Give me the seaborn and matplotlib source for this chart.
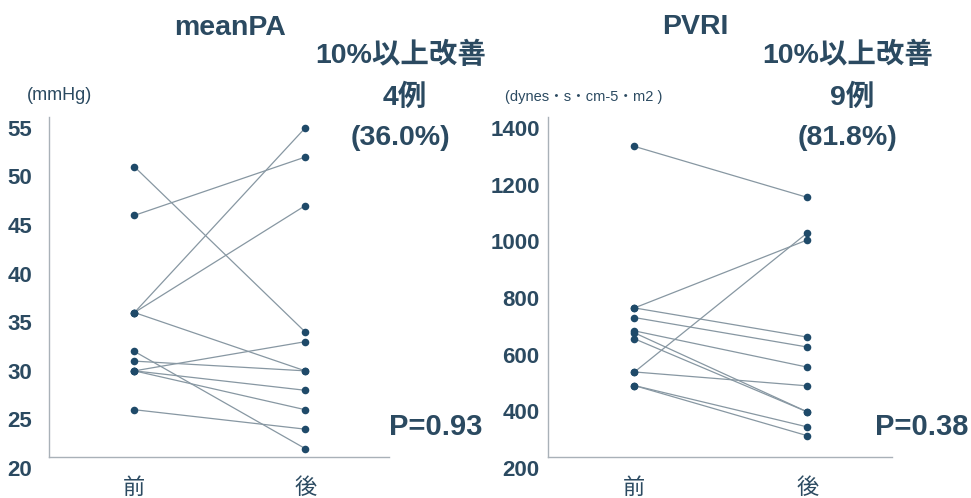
import numpy as np
import pandas as pd
import matplotlib
matplotlib.use('Agg')
import matplotlib.pyplot as plt
import seaborn as sns

# meanPA (mmHg), 前 -> 後 per patient
mpa_before = [51, 46, 36, 36, 36, 31, 30, 30, 30, 32, 26]
mpa_after = [34, 52, 55, 47, 30, 30, 33, 28, 26, 22, 24]

# PVRI (dynes・s・cm-5・m2)
pvri_before = [1335, 765, 539, 765, 731, 684, 677, 656, 539, 491, 491]
pvri_after = [1155, 1005, 1030, 662, 627, 556, 398, 398, 490, 345, 314]

time_labels = ['前', '後']
mpa_ticks = [20, 25, 30, 35, 40, 45, 50, 55]
pvri_ticks = [200, 400, 600, 800, 1000, 1200, 1400]

txt_col = '#2b4a61'
dot_col = '#1f4a69'
line_col = '#8797a2'
spine_col = '#a9b1b8'

sns.set_style('white')
plt.rcParams['font.family'] = ['Liberation Sans', 'Noto Sans CJK JP', 'DejaVu Sans']


def to_long(before, after):
    n = len(before)
    return pd.DataFrame({
        'id': list(range(n)) * 2,
        'x': [0] * n + [1] * n,
        'value': list(before) + list(after),
    })


def draw(ax, before, after, ylim, base, ticks, ypad):
    df = to_long(before, after)
    sns.lineplot(data=df, x='x', y='value', units='id', estimator=None,
                 color=line_col, linewidth=0.9, ax=ax, sort=False)
    sns.scatterplot(data=df, x='x', y='value', color=dot_col, s=30,
                    linewidth=0, ax=ax, zorder=3)
    for s in ['top', 'right']:
        ax.spines[s].set_visible(False)
    # the bottom line sits a little above the lowest tick, as in the source
    ax.spines['bottom'].set_position(('data', base))
    ax.spines['left'].set_bounds(base, ylim[1])
    for s in ['bottom', 'left']:
        ax.spines[s].set_color(spine_col)
        ax.spines[s].set_linewidth(1.0)
    ax.set_xlim(-0.5, 1.49)
    ax.set_ylim(*ylim)
    ax.set_xticks([0, 1])
    ax.set_xticklabels(time_labels, fontsize=16, color=txt_col)
    ax.set_yticks(ticks)
    ax.set_yticklabels([str(t) for t in ticks], fontsize=16,
                       fontweight='bold', color=txt_col)
    ax.set_xlabel('')
    ax.set_ylabel('')
    ax.tick_params(axis='x', length=0, pad=15)
    ax.tick_params(axis='y', length=0, pad=ypad)


fig = plt.figure(figsize=(9.71, 4.98), dpi=100)
ax1 = fig.add_axes([0.0505, 0.0602, 0.350, 0.705])
ax2 = fig.add_axes([0.5644, 0.0602, 0.3543, 0.705])

draw(ax1, mpa_before, mpa_after, (20, 56.13), 21.13, mpa_ticks, 12)
draw(ax2, pvri_before, pvri_after, (200, 1439), 239, pvri_ticks, 6)


def put(x, y, s, size, weight='bold'):
    fig.text(x / 971, 1 - y / 498, s, ha='center', va='center',
             fontsize=size, fontweight=weight, color=txt_col)


put(230, 28, 'meanPA', 20.5)
put(695, 27, 'PVRI', 20.5)
put(401, 55, '10%以上改善', 20.5)
put(405, 97, '4例', 20.5)
put(400, 138, '(36.0%)', 20.5)
put(848, 55, '10%以上改善', 20.5)
put(852, 97, '9例', 20.5)
put(847, 138, '(81.8%)', 20.5)
put(59, 96, '(mmHg)', 13, 'normal')
put(584, 97, '(dynes・s・cm-5・m2 )', 10.5, 'normal')
put(436, 427, 'P=0.93', 21)
put(922, 427, 'P=0.38', 21)

fig.savefig('out.png', dpi=100)
